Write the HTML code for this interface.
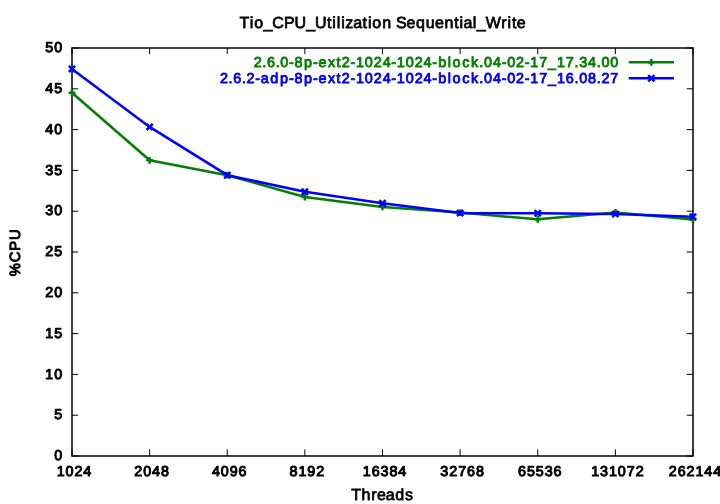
<!DOCTYPE html>
<html lang="en">
<head>
<meta charset="utf-8">
<title>Tio_CPU_Utilization Sequential_Write</title>
<style>
html,body{margin:0;padding:0;background:#fff;}
body{width:720px;height:504px;overflow:hidden;}
svg{display:block;}
text{font-family:"Liberation Sans",Arial,Helvetica,sans-serif;font-weight:normal;font-size:16px;text-rendering:geometricPrecision;fill:#000;stroke:#000;stroke-width:0.75px;stroke-linejoin:round;}
.t{font-size:14.3px;stroke-width:1px;}
.v{font-size:14.8px;stroke-width:1px;}
.g{font-size:14.4px;stroke-width:0.85px;fill:#008000;stroke:#008000;}
.b{font-size:14.4px;stroke-width:0.85px;fill:#0000ff;stroke:#0000ff;}
</style>
</head>
<body>
<svg width="720" height="504" viewBox="0 0 720 504">
<rect x="0" y="0" width="720" height="504" fill="#ffffff"/>

<g stroke="#000" stroke-width="1" fill="none">
<path d="M72.0 456.00h6.2M693.0 456.00h-6.2"/>
<path d="M72.0 415.20h6.2M693.0 415.20h-6.2"/>
<path d="M72.0 374.40h6.2M693.0 374.40h-6.2"/>
<path d="M72.0 333.60h6.2M693.0 333.60h-6.2"/>
<path d="M72.0 292.80h6.2M693.0 292.80h-6.2"/>
<path d="M72.0 252.00h6.2M693.0 252.00h-6.2"/>
<path d="M72.0 211.20h6.2M693.0 211.20h-6.2"/>
<path d="M72.0 170.40h6.2M693.0 170.40h-6.2"/>
<path d="M72.0 129.60h6.2M693.0 129.60h-6.2"/>
<path d="M72.0 88.80h6.2M693.0 88.80h-6.2"/>
<path d="M72.0 48.00h6.2M693.0 48.00h-6.2"/>
<path d="M72.00 456.0v-6.6M72.00 48.0v6.1"/>
<path d="M149.62 456.0v-6.6M149.62 48.0v6.1"/>
<path d="M227.25 456.0v-6.6M227.25 48.0v6.1"/>
<path d="M304.88 456.0v-6.6M304.88 48.0v6.1"/>
<path d="M382.50 456.0v-6.6M382.50 48.0v6.1"/>
<path d="M460.12 456.0v-6.6M460.12 48.0v6.1"/>
<path d="M537.75 456.0v-6.6M537.75 48.0v6.1"/>
<path d="M615.38 456.0v-6.6M615.38 48.0v6.1"/>
<path d="M693.00 456.0v-6.6M693.00 48.0v6.1"/>
</g>
<rect x="72.0" y="48.0" width="621.0" height="408.0" fill="none" stroke="#000" stroke-width="1.5"/>
<text class="t" x="54.17" y="460.45">0</text>
<text class="t" x="54.17" y="419.45">5</text>
<text class="t" x="45.28 54.17" y="379.45">10</text>
<text class="t" x="45.28 54.17" y="338.45">15</text>
<text class="t" x="45.28 54.17" y="297.45">20</text>
<text class="t" x="45.28 54.17" y="256.45">25</text>
<text class="t" x="45.28 54.17" y="215.45">30</text>
<text class="t" x="45.28 54.17" y="175.45">35</text>
<text class="t" x="45.28 54.17" y="134.45">40</text>
<text class="t" x="45.28 54.17" y="93.45">45</text>
<text class="t" x="45.28 54.17" y="52.45">50</text>
<text class="t" x="56.68 65.57 74.47 83.37" y="476.15">1024</text>
<text class="t" x="134.30 143.19 152.09 160.99" y="476.15">2048</text>
<text class="t" x="211.93 220.82 229.72 238.62" y="476.15">4096</text>
<text class="t" x="289.56 298.45 307.35 316.25" y="476.15">8192</text>
<text class="t" x="362.73 371.63 380.52 389.42 398.32" y="476.15">16384</text>
<text class="t" x="440.35 449.25 458.14 467.04 475.94" y="476.15">32768</text>
<text class="t" x="517.98 526.88 535.77 544.67 553.57" y="476.15">65536</text>
<text class="t" x="591.16 600.06 608.95 617.85 626.75 635.65" y="476.15">131072</text>
<text class="t" x="668.78 677.68 686.57 695.47 704.37 713.27" y="476.15">262144</text>
<text x="351.18 361.39 371.18 376.95 385.85 395.19 404.97" y="500.4">Threads</text>
<text class="v" transform="translate(20.2 252.9) rotate(-90)" x="-23.47 -9.34 2.18 12.88" y="0">%CPU</text>
<text x="239.47 249.69 254.13 263.46 272.36 283.92 294.59 306.14 315.04 327.04 332.37 336.81 341.26 345.26 353.26 362.60 367.93 372.37 382.14 391.48 395.92 406.60 415.93 425.71 435.04 444.38 454.15 459.49 463.49 472.83 476.83 485.73 501.28 507.50 511.94 516.83" y="28.3">Tio_CPU_Utilization Sequential_Write</text>
<text class="g" x="253.67 262.35 267.02 275.69 280.36 289.08 294.59 303.92 313.08 318.59 327.89 336.60 341.71 350.43 355.94 364.84 373.74 382.64 391.36 396.86 405.76 414.66 423.56 432.28 438.22 447.74 452.44 462.18 471.08 479.35 484.02 492.92 501.64 507.14 516.04 524.76 530.27 539.17 548.07 556.96 565.86 574.54 579.21 588.10 596.78 601.45 610.35" y="67.25">2.6.0-8p-ext2-1024-1024-block.04-02-17_17.34.00</text>
<text class="b" x="219.90 228.58 233.24 241.92 246.59 255.31 260.82 270.15 279.92 289.08 294.59 303.92 313.08 318.59 327.89 336.60 341.71 350.43 355.94 364.84 373.74 382.64 391.36 396.86 405.76 414.66 423.56 432.28 438.22 447.74 452.44 462.18 471.08 479.35 484.02 492.92 501.64 507.14 516.04 524.76 530.27 539.17 548.07 556.96 565.86 574.54 579.21 588.10 596.78 601.45 610.35" y="83.3">2.6.2-adp-8p-ext2-1024-1024-block.04-02-17_16.08.27</text>
<g stroke="#008000" stroke-width="2.55" fill="none" stroke-linejoin="round">
<path d="M628.8 62.3H674"/>
<path stroke-width="2.5" d="M647.90 62.30h6.8M651.30 58.90v6.8"/>
<path d="M72.00 92.80 L149.62 160.30 L227.25 175.20 L304.88 197.00 L382.50 206.90 L460.12 212.60 L537.75 219.30 L615.38 212.50 L693.00 219.40"/>
<path stroke-width="2.5" d="M68.60 92.80h6.8M72.00 89.40v6.8M146.22 160.30h6.8M149.62 156.90v6.8M223.85 175.20h6.8M227.25 171.80v6.8M301.48 197.00h6.8M304.88 193.60v6.8M379.10 206.90h6.8M382.50 203.50v6.8M456.73 212.60h6.8M460.12 209.20v6.8M534.35 219.30h6.8M537.75 215.90v6.8M611.98 212.50h6.8M615.38 209.10v6.8M689.60 219.40h6.8M693.00 216.00v6.8"/>
</g>
<g stroke="#0000ff" stroke-width="2.55" fill="none" stroke-linejoin="round">
<path d="M628.8 78.3H674"/>
<path stroke-width="2.5" d="M648.20 75.20l6.2 6.2M648.20 81.40l6.2 -6.2"/>
<path d="M72.00 68.90 L149.62 126.90 L227.25 175.20 L304.88 191.70 L382.50 203.20 L460.12 213.10 L537.75 213.30 L615.38 213.90 L693.00 216.70"/>
<path stroke-width="2.5" d="M68.90 65.80l6.2 6.2M68.90 72.00l6.2 -6.2M146.53 123.80l6.2 6.2M146.53 130.00l6.2 -6.2M224.15 172.10l6.2 6.2M224.15 178.30l6.2 -6.2M301.77 188.60l6.2 6.2M301.77 194.80l6.2 -6.2M379.40 200.10l6.2 6.2M379.40 206.30l6.2 -6.2M457.02 210.00l6.2 6.2M457.02 216.20l6.2 -6.2M534.65 210.20l6.2 6.2M534.65 216.40l6.2 -6.2M612.27 210.80l6.2 6.2M612.27 217.00l6.2 -6.2M689.90 213.60l6.2 6.2M689.90 219.80l6.2 -6.2"/>
</g>
</svg>
</body>
</html>
